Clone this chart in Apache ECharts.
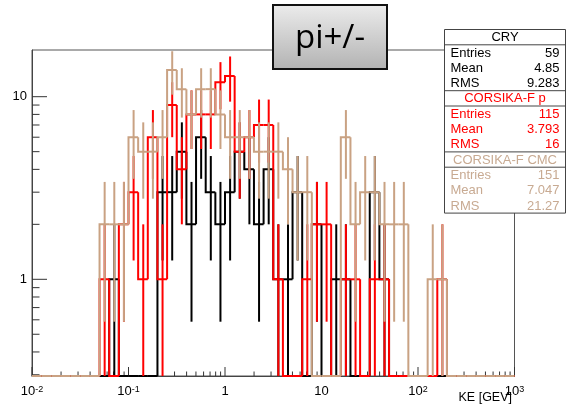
<!DOCTYPE html>
<html><head><meta charset="utf-8">
<script src="https://cdn.jsdelivr.net/npm/echarts@6/dist/echarts.min.js"></script>
<style>html,body{margin:0;padding:0;background:#fff}#c{width:581px;height:406px}</style>
</head><body><div id="c"></div>
<script>
// ---- axis ranges / binning ----
const xMin = 0.01, xMax = 1000;
const yMin = 0.2954, yMax = 18.02;
const nBins = 50;           // 10 bins per decade, 1e-2 .. 1e3
const xMajorTicks = [0.01, 0.1, 1, 10, 100, 1000];
const yMajorTicks = [1, 10];
const minorMultipliers = [2, 3, 4, 5, 6, 7, 8, 9];

// ---- histogram contents (counts per bin) ----
const cry = [0,0,0,0,0,0,0,0,1,0, 0,0,0,3,3,5,2,6,3,2, 3,5,4,2,4,1,1,3,0,2, 0,1,1,0,0,3,1,0,0,0, 0,0,0,0,0,0,0,0,0,0];
const corsikaP = [0,0,0,0,0,0,0,1,0,2, 3,1,6,1,9,4,8,8,8,12, 13,5,6,7,7,1,0,0,1,2, 2,0,1,1,0,1,1,0,0,0, 0,0,1,0,0,0,0,0,0,0];
const corsikaCMC = [0,0,0,0,0,0,0,2,2,2, 6,5,5,6,14,11,8,11,11,8, 6,6,6,5,5,5,4,3,3,0, 0,0,6,2,3,3,2,2,2,0, 0,1,1,0,0,0,0,0,0,0];

// ---- stats box ----
const statNames = ['CRY', 'CORSIKA-F p', 'CORSIKA-F CMC'];
const statEntries = ['59', '115', '151'];
const statMean = ['4.85', '3.793', '7.047'];
const statRMS = ['9.283', '16', '21.27'];
const colors = ['#000000', '#ff0000', '#c9a283'];
const statTextColors = ['#000000', '#ff0000', '#c8aa92'];

const titleText = 'pi+/-';
const xTitle = 'KE [GEV]';

const FONT = '"Liberation Sans", Arial, Helvetica, sans-serif';

const lx0 = Math.log10(xMin), lx1 = Math.log10(xMax);
const edges = [];
for (let k = 0; k <= nBins; k++) edges.push(Math.pow(10, lx0 + (lx1 - lx0) * k / nBins));

function histData(arr) {
  return arr.map((v, i) => [edges[i], edges[i + 1], v, i > 0 ? arr[i - 1] : 0, i === arr.length - 1 ? 1 : 0]);
}

function histRender(color) {
  return function (params, api) {
    const cs = params.coordSys;
    const bottom = cs.y + cs.height, top = cs.y;
    const lo = api.value(0), hi = api.value(1), v = api.value(2), prev = api.value(3), last = api.value(4);
    const py = val => val > 0 ? Math.max(top, Math.min(bottom, api.coord([lo, val])[1])) : bottom;
    const xl = api.coord([lo, yMax])[0], xh = api.coord([hi, yMax])[0];
    const pts = [[xl, py(prev)], [xl, py(v)], [xh, py(v)]];
    if (last) pts.push([xh, bottom]);
    const children = [{
      type: 'polyline', shape: { points: pts },
      style: { stroke: color, lineWidth: 2, fill: null, lineJoin: 'miter' }
    }];
    if (v > 0) {
      const xc = api.coord([(lo + hi) / 2, yMax])[0];
      const e = Math.sqrt(v);
      children.push({
        type: 'line',
        shape: { x1: xc, y1: py(v - e), x2: xc, y2: py(v + e) },
        style: { stroke: color, lineWidth: 2 }
      });
    }
    return { type: 'group', children };
  };
}

// tick data
const xTickData = [];
xMajorTicks.forEach((t, i) => {
  xTickData.push([t, yMax, 1]);
  if (i < xMajorTicks.length - 1) minorMultipliers.forEach(m => xTickData.push([t * m, yMax, 0]));
});
const yTickData = [];
[0.1, 1, 10].forEach(d => {
  minorMultipliers.concat([1]).forEach(m => {
    const val = d * m;
    if (val >= yMin && val <= yMax) yTickData.push([xMin, val, yMajorTicks.indexOf(val) >= 0 ? 1 : 0]);
  });
});

function isPow10(v) {
  const l = Math.log10(v);
  return Math.abs(l - Math.round(l)) < 1e-6;
}

// stats box graphic
const box = { left: 442, top: 29, width: 121, rowH: 15.3 };
const statChildren = [];
const secH = box.rowH * 4;
statChildren.push({ type: 'rect', shape: { x: 0, y: 0, width: box.width, height: secH * 3 },
  style: { fill: '#fff', stroke: '#444', lineWidth: 1 } });
for (let s = 0; s < 3; s++) {
  const y0 = s * secH;
  if (s > 0) statChildren.push({ type: 'line', shape: { x1: 0, y1: y0, x2: box.width, y2: y0 }, style: { stroke: '#444', lineWidth: 1 } });
  statChildren.push({ type: 'line', shape: { x1: 0, y1: y0 + box.rowH, x2: box.width, y2: y0 + box.rowH }, style: { stroke: '#444', lineWidth: 1 } });
  statChildren.push({ type: 'text', style: { text: statNames[s], x: box.width / 2, y: y0 + box.rowH / 2 + 0.5,
    align: 'center', verticalAlign: 'middle', font: '13px ' + FONT, fill: statTextColors[s] } });
  const labels = ['Entries', 'Mean', 'RMS'];
  const vals = [statEntries[s], statMean[s], statRMS[s]];
  for (let r = 0; r < 3; r++) {
    const yc = y0 + box.rowH * (1.5 + r) + 0.5;
    statChildren.push({ type: 'text', style: { text: labels[r], x: 6, y: yc, align: 'left', verticalAlign: 'middle', font: '13px ' + FONT, fill: statTextColors[s] } });
    statChildren.push({ type: 'text', style: { text: vals[r], x: box.width - 6, y: yc, align: 'right', verticalAlign: 'middle', font: '13px ' + FONT, fill: statTextColors[s] } });
  }
}

const chart = echarts.init(document.getElementById('c'), null, { renderer: 'canvas' });
chart.setOption({
  animation: false,
  backgroundColor: '#ffffff',
  grid: { left: 32, top: 50, right: 66.5, bottom: 30, show: true, borderColor: '#555', borderWidth: 1, containLabel: false },
  xAxis: {
    type: 'log', logBase: 10, min: xMin, max: xMax,
    axisLine: { show: true, lineStyle: { color: '#444', width: 1 } },
    axisTick: { show: false }, splitLine: { show: false },
    axisLabel: {
      margin: 9, color: '#000',
      formatter: v => {
        if (!isPow10(v)) return '';
        const e = Math.round(Math.log10(v));
        if (e === 0) return '{b|1}';
        if (e === 1) return '{b|10}';
        return '{b|10}{s|' + e + '}';
      },
      rich: {
        b: { fontSize: 13, fontFamily: FONT, lineHeight: 18, verticalAlign: 'top', color: '#000' },
        s: { fontSize: 9, fontFamily: FONT, lineHeight: 10, verticalAlign: 'top', color: '#000' }
      }
    }
  },
  yAxis: {
    type: 'log', logBase: 10, min: yMin, max: yMax,
    axisLine: { show: true, lineStyle: { color: '#444', width: 1 } },
    axisTick: { show: false }, splitLine: { show: false },
    axisLabel: {
      margin: 5, color: '#000', fontSize: 13, fontFamily: FONT,
      showMinLabel: false, showMaxLabel: false,
      formatter: v => isPow10(v) ? String(Math.round(v)) : ''
    }
  },
  graphic: [
    { type: 'text', right: 69, top: 391, z: 50, style: { text: xTitle, font: '12.5px ' + FONT, fill: '#000' } },
    { type: 'group', left: box.left, top: box.top, z: 100, children: statChildren },
    { type: 'rect', z: 100, shape: { x: 273, y: 5, width: 114, height: 64 },
      style: { fill: { type: 'linear', x: 0, y: 0, x2: 0, y2: 1, colorStops: [{ offset: 0, color: '#ececec' }, { offset: 1, color: '#b2b2b2' }] },
        stroke: '#111', lineWidth: 2 } },
    { type: 'text', z: 101, style: { text: titleText, x: 330, y: 39, align: 'center', verticalAlign: 'middle',
      font: '33px "Open Sans", "Liberation Sans", sans-serif', fill: '#000' } }
  ],
  series: [
    { type: 'custom', name: 'xticks', coordinateSystem: 'cartesian2d', clip: false, silent: true,
      data: xTickData, encode: { x: 0, y: 1 },
      renderItem: (params, api) => {
        const cs = params.coordSys; const b = cs.y + cs.height;
        const x = api.coord([api.value(0), yMax])[0];
        const len = api.value(2) ? 9 : 4.5;
        return { type: 'line', shape: { x1: x, y1: b, x2: x, y2: b - len }, style: { stroke: '#333', lineWidth: 1 } };
      } },
    { type: 'custom', name: 'yticks', coordinateSystem: 'cartesian2d', clip: false, silent: true,
      data: yTickData, encode: { x: 0, y: 1 },
      renderItem: (params, api) => {
        const cs = params.coordSys;
        const y = api.coord([xMin, api.value(1)])[1];
        const len = api.value(2) ? 15 : 7.5;
        return { type: 'line', shape: { x1: cs.x, y1: y, x2: cs.x + len, y2: y }, style: { stroke: '#333', lineWidth: 1 } };
      } },
    { type: 'custom', name: 'CRY', coordinateSystem: 'cartesian2d', clip: false, silent: true,
      data: histData(cry), encode: { x: [0, 1] }, renderItem: histRender(colors[0]) },
    { type: 'custom', name: 'CORSIKA-F p', coordinateSystem: 'cartesian2d', clip: false, silent: true,
      data: histData(corsikaP), encode: { x: [0, 1] }, renderItem: histRender(colors[1]) },
    { type: 'custom', name: 'CORSIKA-F CMC', coordinateSystem: 'cartesian2d', clip: false, silent: true,
      data: histData(corsikaCMC), encode: { x: [0, 1] }, renderItem: histRender(colors[2]) }
  ]
});
</script>
</body></html>
